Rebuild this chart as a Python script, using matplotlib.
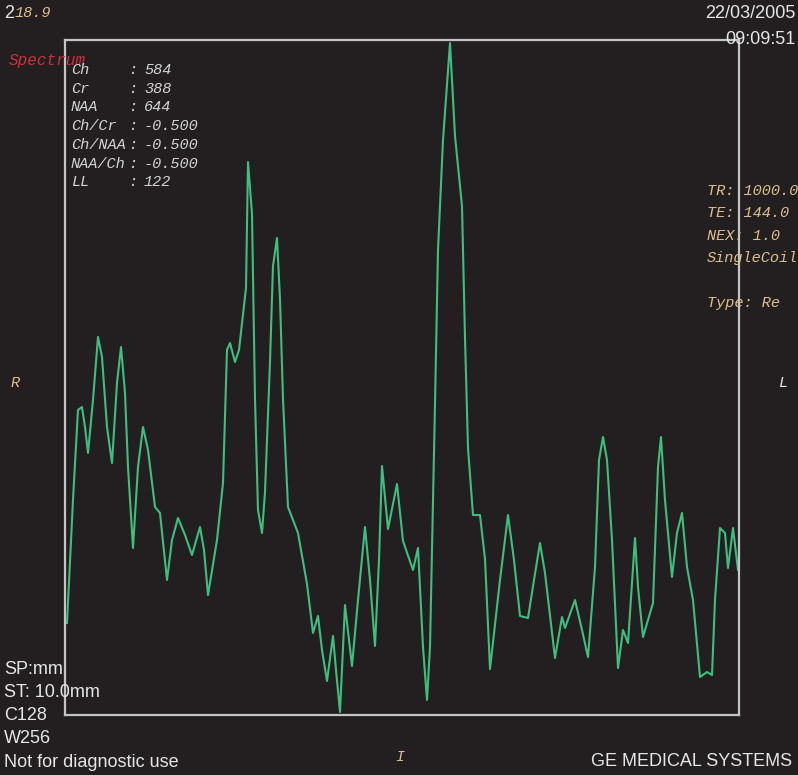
import matplotlib
matplotlib.use("Agg")
import matplotlib.pyplot as plt

# spectrum trace (position along the box, signal height)
pos = [2, 8, 13, 17, 20, 23, 28, 33, 37, 42,
       47, 52, 56, 60, 63, 68, 73, 78, 83, 90,
       95, 102, 107, 113, 120, 127, 135, 139, 143, 152,
       158, 162, 165, 170, 174, 181, 183, 187, 190, 193,
       197, 200, 205, 208, 212, 215, 218, 223, 233, 242,
       248, 253, 257, 262, 268, 271, 275, 280, 287, 293,
       300, 305, 310, 314, 317, 323, 332, 338, 348, 353,
       358, 362, 365, 370, 373, 378, 385, 390, 397, 400,
       403, 408, 415, 420, 425, 435, 443, 449, 455, 463,
       469, 475, 480, 490, 497, 500, 510, 517, 523, 530,
       534, 538, 542, 547, 553, 558, 563, 570, 573, 578,
       583, 588, 593, 596, 600, 607, 612, 617, 622, 628,
       635, 642, 647, 650, 655, 660, 663, 668, 673]
signal = [92, 215, 305, 308, 288, 262, 315, 378, 358, 288,
          252, 332, 368, 322, 248, 167, 248, 288, 265, 208,
          202, 135, 175, 197, 180, 160, 188, 165, 120, 175,
          232, 365, 372, 353, 365, 427, 553, 501, 316, 205,
          182, 223, 353, 449, 477, 416, 316, 208, 182, 131,
          82, 99, 65, 34, 79, 45, 3, 110, 49, 115,
          188, 135, 69, 155, 249, 186, 231, 174, 145, 167,
          68, 15, 68, 311, 465, 575, 672, 579, 509, 377,
          267, 200, 200, 156, 46, 135, 200, 155, 99, 97,
          135, 172, 142, 57, 98, 87, 115, 85, 58, 148,
          255, 278, 255, 175, 47, 85, 72, 177, 128, 78,
          95, 112, 248, 278, 215, 138, 182, 202, 148, 115,
          38, 43, 40, 115, 187, 182, 147, 187, 145]

info_labels = ["Ch", "Cr", "NAA", "Ch/Cr", "Ch/NAA", "NAA/Ch", "LL"]
info_values = ["584", "388", "644", "-0.500", "-0.500", "-0.500", "122"]
scan_params = ["TR: 1000.0", "TE: 144.0", "NEX: 1.0", "SingleCoil", "", "Type: Re"]
bottom_left = ["SP:mm", "ST: 10.0mm", "C128", "W256", "Not for diagnostic use"]

W, H = 798, 775
BG = "#231f20"
GREEN = "#3dbf7f"
BOX = "#c4c4c4"
WHITE = "#e6e6e6"
AMBER = "#dcc08c"
MONO = "Liberation Mono"
SANS = "Liberation Sans"


def fx(px):
    return px / W


def fy(py):
    return 1 - py / H


fig = plt.figure(figsize=(W / 100, H / 100), dpi=100, facecolor=BG)
ax = fig.add_axes([fx(65), fy(715), fx(739) - fx(65), (715 - 40) / H])
ax.set_facecolor(BG)
ax.plot(pos, signal, color=GREEN, lw=1.5)
ax.set_xlim(0, 674)
ax.set_ylim(0, 675)
ax.set_xticks([])
ax.set_yticks([])
for s in ax.spines.values():
    s.set_color(BOX)
    s.set_linewidth(1.6)

# top-left corner
fig.text(fx(4), fy(13), "2", color=WHITE, family=SANS, fontsize=13,
         va="center")
fig.text(fx(15), fy(13), "18.9", color=AMBER, family=MONO, style="italic",
         fontsize=11, va="center")
fig.text(fx(9), fy(60), "Spectrum", color="#c8323a", family=MONO,
         style="italic", fontsize=11.5, va="center")

for i, (lab, val) in enumerate(zip(info_labels, info_values)):
    y = fy(70 + i * 18.7)
    fig.text(fx(71), y, lab, color="#d4d4d4", family=MONO, style="italic",
             fontsize=11, va="center")
    fig.text(fx(128), y, ":", color="#d4d4d4", family=MONO, style="italic",
             fontsize=11, va="center")
    fig.text(fx(144), y, val, color="#d4d4d4", family=MONO, style="italic",
             fontsize=11, va="center")

# top-right corner
fig.text(fx(795), fy(13), "22/03/2005", color=WHITE, family=SANS,
         fontsize=13, ha="right", va="center")
fig.text(fx(795), fy(40), "09:09:51", color=WHITE, family=SANS,
         fontsize=13, ha="right", va="center")

for i, t in enumerate(scan_params):
    if t:
        fig.text(fx(707), fy(191 + i * 22.4), t, color=AMBER, family=MONO,
                 style="italic", fontsize=11, va="center")

# orientation letters
fig.text(fx(15), fy(383), "R", color=AMBER, family=MONO, style="italic",
         fontsize=11, va="center", ha="center")
fig.text(fx(783), fy(383), "L", color=WHITE, family=MONO, style="italic",
         fontsize=11, va="center", ha="center")
fig.text(fx(400), fy(757), "I", color=AMBER, family=MONO, style="italic",
         fontsize=11, va="center", ha="center")

# bottom-left block
for i, t in enumerate(bottom_left):
    fig.text(fx(4), fy(669 + i * 23.3), t, color=WHITE, family=SANS,
             fontsize=13, va="center")

fig.text(fx(792), fy(762), "GE MEDICAL SYSTEMS", color=WHITE, family=SANS,
         fontsize=13, ha="right", va="center")

fig.savefig("out.png", dpi=100, facecolor=BG)
